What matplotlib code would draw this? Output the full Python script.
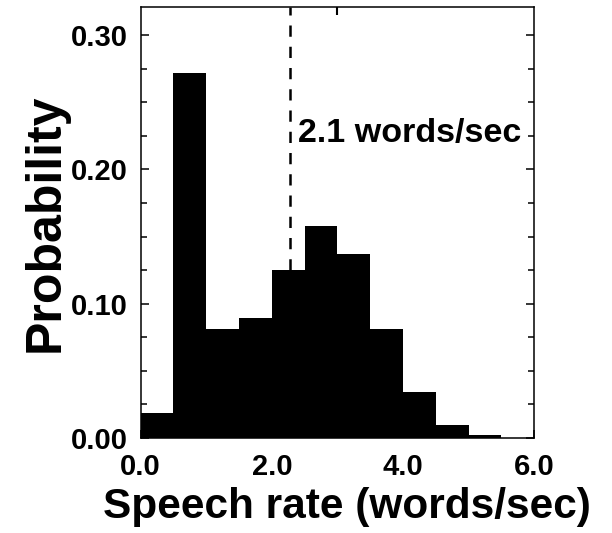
import numpy as np
import matplotlib
matplotlib.use("Agg")
import matplotlib.pyplot as plt
from matplotlib.ticker import MultipleLocator, FormatStrFormatter

# histogram of speech rate, bins of 0.5 words/sec
bin_edges = [0.0, 0.5, 1.0, 1.5, 2.0, 2.5, 3.0, 3.5, 4.0, 4.5, 5.0, 5.5]
probs = [0.018, 0.272, 0.081, 0.089, 0.125, 0.158, 0.137, 0.081, 0.034, 0.0095, 0.0022, 0.0]
mean_rate = 2.27
mean_label = "2.1 words/sec"

plt.rcParams["font.family"] = ["Liberation Sans", "DejaVu Sans"]
plt.rcParams["font.weight"] = "bold"

fig = plt.figure(figsize=(6.12, 5.33), dpi=100)
ax = fig.add_axes([0.2299, 0.179, 0.873 - 0.2299, 0.9863 - 0.179])

ax.bar(bin_edges, probs, width=0.5, align="edge", color="black", linewidth=0)

ymax = 0.321
ax.plot([mean_rate, mean_rate], [probs[4], ymax], color="black", lw=1.8,
        dashes=(4.5, 4.0))
ax.text(mean_rate + 0.13, 0.227, mean_label, fontsize=24.5, fontweight="bold",
        va="center", ha="left")

ax.set_xlim(0, 6)
ax.set_ylim(0, ymax)

ax.xaxis.set_major_locator(MultipleLocator(2.0))
ax.xaxis.set_major_formatter(FormatStrFormatter("%.1f"))
ax.yaxis.set_major_locator(MultipleLocator(0.1))
ax.yaxis.set_minor_locator(MultipleLocator(0.025))
ax.yaxis.set_major_formatter(FormatStrFormatter("%.2f"))

ax.tick_params(axis="y", which="both", direction="in", left=True, right=True,
               width=1.1)
ax.tick_params(axis="y", which="major", length=6, labelsize=21, pad=9)
ax.tick_params(axis="y", which="minor", length=4)
ax.tick_params(axis="x", which="major", direction="in", length=6, width=1.1,
               labelsize=21, pad=11)

top = ax.secondary_xaxis("top")
top.set_xticks([3.0])
top.tick_params(direction="in", length=6, width=1.5, labeltop=False)
top.spines["top"].set_visible(False)

for s in ax.spines.values():
    s.set_linewidth(1.1)

ax.set_xlabel("Speech rate (words/sec)", fontsize=30.5, fontweight="bold", labelpad=5)
ax.xaxis.set_label_coords(0.523, -0.115)
ax.xaxis.label.set_va("top")
ax.set_ylabel("Probability", fontsize=36, fontweight="bold", labelpad=2)

fig.savefig("out.png", dpi=100)
